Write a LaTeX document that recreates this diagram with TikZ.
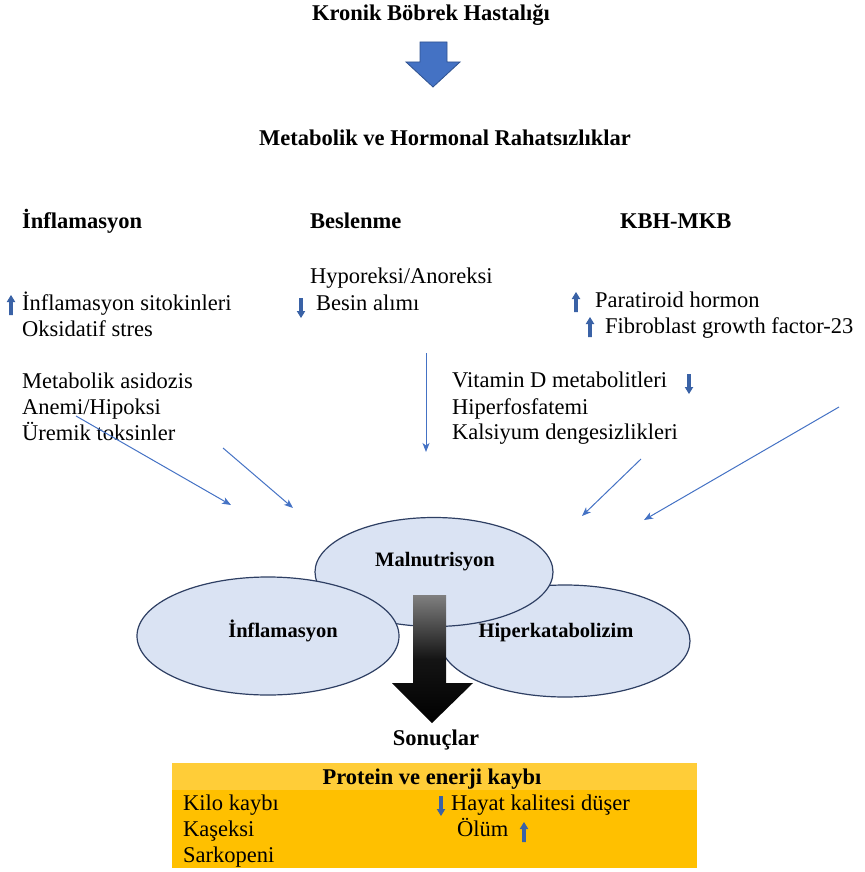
\documentclass[tikz,border=0pt]{standalone}
\usepackage{fontspec}
\setmainfont{Liberation Serif}
\usetikzlibrary{arrows.meta,shapes.geometric}
\definecolor{ablue}{HTML}{4472C4}
\definecolor{dblue}{HTML}{2F528F}
\definecolor{sblue}{HTML}{3A62A6}
\definecolor{efill}{HTML}{DAE3F3}
\definecolor{eline}{HTML}{2E3F63}
\definecolor{gold}{HTML}{FFC000}
\definecolor{goldl}{HTML}{FFCD38}
\begin{document}
\begin{tikzpicture}[x=1pt,y=-1pt,
  txt/.style={anchor=base west, inner sep=0pt, font=\fontsize{22.5}{26}\selectfont},
  btxt/.style={anchor=base, inner sep=0pt, font=\fontsize{22.5}{26}\selectfont\bfseries},
  hd/.style={anchor=base west, inner sep=0pt, font=\fontsize{22.5}{26}\selectfont\bfseries},
  etxt/.style={anchor=center, inner sep=0pt, font=\fontsize{20.5}{24}\selectfont\bfseries},
  ell/.style={ellipse, draw=eline, fill=efill, line width=1.2pt, inner sep=0pt},
  thin/.style={draw=ablue, line width=1pt, -{Stealth[length=9pt,width=7pt,inset=2.5pt]}},
  upar/.pic={\fill[sblue] (-1.9,10) -- (-1.9,-3) -- (-4.3,-3) -- (0,-10) -- (4.3,-3) -- (1.9,-3) -- (1.9,10) -- cycle;},
  downar/.pic={\fill[sblue] (-1.9,-10) -- (-1.9,3) -- (-4.3,3) -- (0,10) -- (4.3,3) -- (1.9,3) -- (1.9,-10) -- cycle;}
]
\useasboundingbox (0,0) rectangle (864,872);

% title and block arrow
\node[btxt] (kbh) at (431,21) {Kronik Böbrek Hastalığı};
\fill[ablue, draw=dblue, line width=0.8pt] (420,42) -- (447,42) -- (447,62) -- (460,62) -- (433,87) -- (406,62) -- (420,62) -- cycle;
\node[btxt] (mhr) at (445,146) {Metabolik ve Hormonal Rahatsızlıklar};

% headings
\node[hd] (h1) at (22,228) {İnflamasyon};
\node[hd] (h2) at (310,228) {Beslenme};
\node[hd] (h3) at (620,228) {KBH-MKB};

% left column
\pic at (11,305) {upar};
\node[txt] (l1) at (22,310) {İnflamasyon sitokinleri};
\node[txt] (l2) at (22,336) {Oksidatif stres};
\node[txt] (l3) at (22,388) {Metabolik asidozis};
\node[txt] (l4) at (22,414) {Anemi/Hipoksi};
\node[txt] (l5) at (22,440) {Üremik toksinler};

% middle column
\node[txt] (m1) at (310,283) {Hyporeksi/Anoreksi};
\pic at (301,308) {downar};
\node[txt] (m2) at (316,310) {Besin alımı};

% right column
\pic at (576,302) {upar};
\node[txt] (r1) at (595,307) {Paratiroid hormon};
\pic at (590,327) {upar};
\node[txt] (r2) at (605,333) {Fibroblast growth factor-23};
\node[txt] (r3) at (452,387) {Vitamin D metabolitleri};
\pic at (689,384) {downar};
\node[txt] (r4) at (452,414) {Hiperfosfatemi};
\node[txt] (r5) at (452,439) {Kalsiyum dengesizlikleri};

% thin arrows
\coordinate (a1s) at (76,416); \coordinate (a1e) at (231,505);
\coordinate (a2s) at (223,448); \coordinate (a2e) at (293,508);
\coordinate (a3s) at (426,353); \coordinate (a3e) at (426,452);
\coordinate (a4s) at (641,459); \coordinate (a4e) at (582,516);
\coordinate (a5s) at (839,407); \coordinate (a5e) at (644,520);
\draw[thin] (a1s) -- (a1e);
\draw[thin] (a2s) -- (a2e);
\draw[thin] (a3s) -- (a3e);
\draw[thin] (a4s) -- (a4e);
\draw[thin] (a5s) -- (a5e);

% ellipses
\node[ell, minimum width=250pt, minimum height=112pt] (hip) at (565,641) {};
\node[ell, minimum width=238pt, minimum height=109pt] (mal) at (434,572) {};
\node[etxt] (malt) at (435,562) {Malnutrisyon};
\node[ell, minimum width=262pt, minimum height=118pt] (inf) at (268,636) {};
\node[etxt] (inft) at (283,631) {İnflamasyon};
\node[etxt] (hipt) at (556,633) {Hiperkatabolizim};

% big gradient arrow
\shade[top color=black!50, bottom color=black, middle color=black!92, shading angle=0]
  (413,595) -- (446,595) -- (446,683) -- (473,683) -- (432,723) -- (392,683) -- (413,683) -- cycle;
\node[btxt] (son) at (436,745) {Sonuçlar};

% bottom box
\fill[gold] (172,790) rectangle (697,868);
\fill[goldl] (172,763) rectangle (697,790);
\node[btxt] (pek) at (432,784) {Protein ve enerji kaybı};
\node[txt] (b1) at (183,810) {Kilo kaybı};
\node[txt] (b2) at (183,836) {Kaşeksi};
\node[txt] (b3) at (183,862) {Sarkopeni};
\pic at (441,806) {downar};
\node[txt] (b4) at (451,810) {Hayat kalitesi düşer};
\node[txt] (b5) at (457,836) {Ölüm};
\pic at (524,832) {upar};
\end{tikzpicture}
\end{document}
